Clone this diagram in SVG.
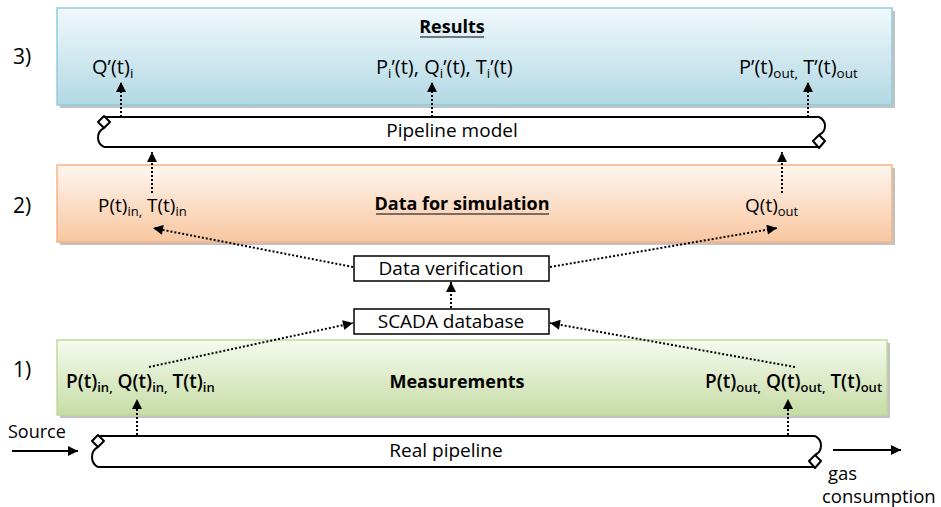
<svg xmlns="http://www.w3.org/2000/svg" width="941" height="507" viewBox="0 0 941 507">
<style>
text{font-family:"Open Sans","Liberation Sans",sans-serif;font-size:19px;fill:#000}
.b{font-weight:700;font-size:18px}
.m{font-weight:600}
.r{font-size:20px}
.num{font-size:21px}
.sub{font-size:13px}
.r .sub{font-size:13.5px}
.dot{fill:none;stroke:#000;stroke-width:2;stroke-dasharray:2 2}
.sol{fill:none;stroke:#000;stroke-width:2}
.pipe{fill:#fff;stroke:none}
.cap{fill:none;stroke:#000;stroke-width:2;stroke-linejoin:round}
.shadow{fill:#a8a8a8;opacity:0.7}
.box{stroke-width:1.5}
</style>
<defs>
<linearGradient id="gBlue" x1="0" y1="0" x2="0" y2="1"><stop offset="0" stop-color="#f0f9fc"/><stop offset="1" stop-color="#b2d8e4"/></linearGradient>
<linearGradient id="gOrange" x1="0" y1="0" x2="0" y2="1"><stop offset="0" stop-color="#fff6ef"/><stop offset="1" stop-color="#f8c6a0"/></linearGradient>
<linearGradient id="gGreen" x1="0" y1="0" x2="0" y2="1"><stop offset="0" stop-color="#f6fbef"/><stop offset="1" stop-color="#c6dca6"/></linearGradient>
<marker id="ah" viewBox="0 0 10 10" refX="10" refY="5" markerWidth="11" markerHeight="10" markerUnits="userSpaceOnUse" orient="auto"><path d="M0,0 L10,5 L0,10 z" fill="#000"/></marker>
</defs>

<g id="labels">
<text class="num" x="13" y="64">3)</text>
<text class="num" x="13" y="213">2)</text>
<text class="num" x="13" y="377">1)</text>
</g>

<g id="results">
<rect class="shadow" x="60" y="11" width="835" height="97"/>
<rect class="box" x="57" y="8" width="835" height="97" fill="url(#gBlue)" stroke="#92cbdc"/>
<text class="b" x="452" y="33" text-anchor="middle">Results</text>
<line x1="420" y1="37" x2="484" y2="37" stroke="#000" stroke-width="1.2"/>
<text class="r" x="92" y="74">Q’(t)<tspan class="sub" dy="4">i</tspan></text>
<text class="r" x="376" y="74">P<tspan class="sub" dy="4">i</tspan><tspan dy="-4">’(t), Q</tspan><tspan class="sub" dy="4">i</tspan><tspan dy="-4">’(t), T</tspan><tspan class="sub" dy="4">i</tspan><tspan dy="-4">’(t)</tspan></text>
<text class="r" x="739" y="74">P’(t)<tspan class="sub" dy="4">out,</tspan><tspan dy="-4"> T’(t)</tspan><tspan class="sub" dy="4">out</tspan></text>
</g>

<g id="pipeline-model">
<rect class="pipe" x="100" y="117" width="723" height="30"/>
<path class="cap" d="M104,117 H819 M104,147 H819"/>
<path class="cap" d="M104,116 L110,122 L104,128 L98,122 Z M104,128 C96,132 96,143 104,147"/>
<path class="cap" d="M819,148 L813,141 L819,135 L825,141 Z M819,135 C827,131 827,121 819,117"/>
<text x="452" y="137" text-anchor="middle">Pipeline model</text>
</g>

<g id="data-for-simulation">
<rect class="shadow" x="60" y="168" width="835" height="77"/>
<rect class="box" x="57" y="165" width="835" height="77" fill="url(#gOrange)" stroke="#f5b487"/>
<text class="b" x="462" y="210" text-anchor="middle">Data for simulation</text>
<line x1="376" y1="214" x2="549" y2="214" stroke="#000" stroke-width="1.2"/>
<text x="98" y="212">P(t)<tspan class="sub" dy="4">in,</tspan><tspan dy="-4"> T(t)</tspan><tspan class="sub" dy="4">in</tspan></text>
<text x="745" y="212">Q(t)<tspan class="sub" dy="4">out</tspan></text>
</g>

<g id="data-verification">
<rect x="354" y="256" width="195" height="25" fill="#fff" stroke="#000" stroke-width="1.5"/>
<text x="451" y="275" text-anchor="middle">Data verification</text>
</g>

<g id="scada-database">
<rect x="354" y="309" width="195" height="25" fill="#fff" stroke="#000" stroke-width="1.5"/>
<text x="451" y="328" text-anchor="middle">SCADA database</text>
</g>

<g id="measurements">
<rect class="shadow" x="60" y="343" width="830" height="75"/>
<rect class="box" x="57" y="340" width="830" height="75" fill="url(#gGreen)" stroke="#c2da9e"/>
<text class="b" x="457" y="388" text-anchor="middle">Measurements</text>
<text class="m" x="66" y="388">P(t)<tspan class="sub" dy="4">in,</tspan><tspan dy="-4"> Q(t)</tspan><tspan class="sub" dy="4">in,</tspan><tspan dy="-4"> T(t)</tspan><tspan class="sub" dy="4">in</tspan></text>
<text class="m" x="705" y="388">P(t)<tspan class="sub" dy="4">out,</tspan><tspan dy="-4"> Q(t)</tspan><tspan class="sub" dy="4">out,</tspan><tspan dy="-4"> T(t)</tspan><tspan class="sub" dy="4">out</tspan></text>
</g>

<g id="real-pipeline">
<rect class="pipe" x="94" y="436" width="723" height="31"/>
<path class="cap" d="M98,436 H815 M98,467 H815"/>
<path class="cap" d="M98,435 L104,441 L98,447 L92,441 Z M98,447 C90,451 90,463 98,467"/>
<path class="cap" d="M815,468 L809,461 L815,455 L821,461 Z M815,455 C823,451 823,440 815,436"/>
<text x="446" y="457" text-anchor="middle">Real pipeline</text>
</g>

<g id="source">
<text x="8" y="438" style="font-size:18px">Source</text>
</g>
<g id="gas-consumption">
<text x="828" y="480" style="font-size:18.5px">gas</text>
<text x="822" y="503" style="font-size:18.5px">consumption</text>
</g>

<g id="connectors">
<line class="dot" x1="121" y1="117" x2="121" y2="82" marker-end="url(#ah)"/>
<line class="dot" x1="432" y1="117" x2="432" y2="82" marker-end="url(#ah)"/>
<line class="dot" x1="808" y1="117" x2="808" y2="82" marker-end="url(#ah)"/>
<line class="dot" x1="152" y1="193" x2="152" y2="152" marker-end="url(#ah)"/>
<line class="dot" x1="782" y1="193" x2="782" y2="152" marker-end="url(#ah)"/>
<line class="dot" x1="353" y1="267" x2="153" y2="228" marker-end="url(#ah)"/>
<line class="dot" x1="550" y1="267" x2="777" y2="228" marker-end="url(#ah)"/>
<line class="dot" x1="451" y1="308" x2="451" y2="282" marker-end="url(#ah)"/>
<line class="dot" x1="149" y1="367" x2="353" y2="323" marker-end="url(#ah)"/>
<line class="dot" x1="795" y1="367" x2="550" y2="323" marker-end="url(#ah)"/>
<line class="dot" x1="137" y1="435" x2="137" y2="399" marker-end="url(#ah)"/>
<line class="dot" x1="788" y1="435" x2="788" y2="399" marker-end="url(#ah)"/>
<line class="sol" x1="12" y1="451" x2="78" y2="451" marker-end="url(#ah)"/>
<line class="sol" x1="833" y1="450" x2="901" y2="450" marker-end="url(#ah)"/>
</g>
</svg>
